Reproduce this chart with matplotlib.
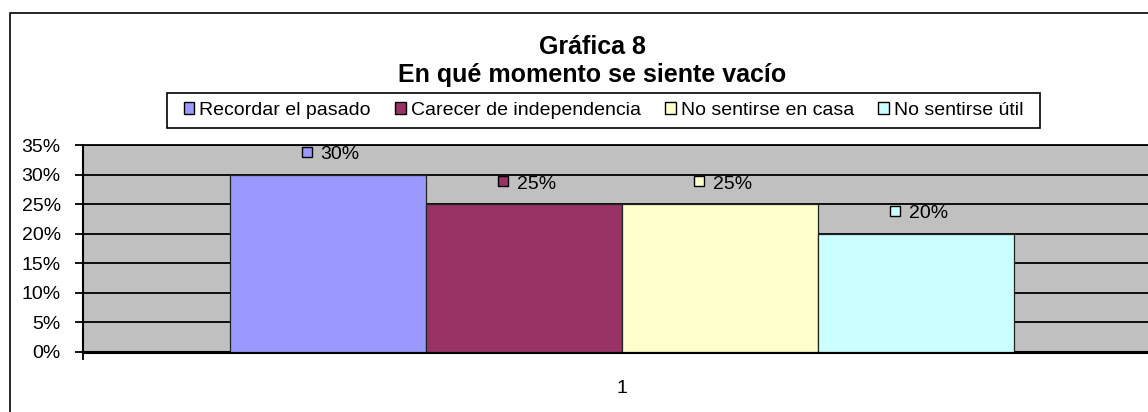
import matplotlib
matplotlib.use("Agg")
import matplotlib.pyplot as plt
import matplotlib.transforms as mtransforms
from matplotlib.patches import Rectangle

plt.rcParams['font.family'] = ['Liberation Sans', 'DejaVu Sans']

categories = ["1"]
series = ["Recordar el pasado", "Carecer de independencia", "No sentirse en casa", "No sentirse útil"]
values = [0.30, 0.25, 0.25, 0.20]
colors = ["#9999FF", "#993366", "#FFFFCC", "#CCFFFF"]
yticks = [0, 0.05, 0.10, 0.15, 0.20, 0.25, 0.30, 0.35]
ytick_labels = ["0%", "5%", "10%", "15%", "20%", "25%", "30%", "35%"]

W, H = 1148, 412
fig = plt.figure(figsize=(W / 100, H / 100), dpi=100)

# outer chart border (goes past right and bottom edges)
fig.patches.append(Rectangle((9.5 / W, -0.2), 1.2, (H - 13) / H + 0.2,
                             transform=fig.transFigure, fill=False,
                             edgecolor="black", lw=1.2))

ax = fig.add_axes([83 / W, 60 / H, 1077 / W, 207 / H])
ax.set_facecolor("#C0C0C0")

w = 196 / 1077
offsets = [-1.5, -0.5, 0.5, 1.5]
bars = []
for i, (name, v, c) in enumerate(zip(series, values, colors)):
    b = ax.bar(offsets[i] * w, v, width=w, color=c, edgecolor="#222222",
               lw=0.9, label=name, zorder=3)
    bars.append(b)

ax.set_xlim(-0.5, 0.5)
ax.set_ylim(0, 0.35)
ax.set_yticks(yticks)
ax.set_yticklabels(ytick_labels, fontsize=14)
ax.yaxis.grid(True, color="black", lw=1.3, zorder=1)
ax.set_axisbelow(True)
ax.tick_params(axis="y", length=6, width=1.3, pad=10, direction="out")

ax.set_xticks([0])
ax.set_xticklabels(categories, fontsize=14)
ax.tick_params(axis="x", length=0, pad=20)
ax.set_xticks([-0.5, 0.5], minor=True)
ax.tick_params(axis="x", which="minor", length=6, width=1.3, direction="out")

ax.spines["right"].set_visible(False)
ax.spines["top"].set_linewidth(1.3)
ax.spines["left"].set_linewidth(1.5)
ax.spines["bottom"].set_linewidth(2.2)

# data labels with small legend key
sq_tr = mtransforms.offset_copy(ax.transData, fig=fig, x=-21, y=23, units="dots")
tx_tr = mtransforms.offset_copy(ax.transData, fig=fig, x=-7, y=20, units="dots")
for i, (v, c) in enumerate(zip(values, colors)):
    xc = offsets[i] * w
    ax.plot([xc], [v], marker="s", markersize=7.5, markerfacecolor=c,
            markeredgecolor="black", markeredgewidth=1.0, transform=sq_tr,
            clip_on=False, zorder=5)
    ax.text(xc, v, f"{v:.0%}", transform=tx_tr, ha="left", va="center",
            fontsize=14, zorder=5)

fig.text(592 / W, 1 - 47 / H, "Gráfica 8", ha="center", va="center",
         fontsize=18, fontweight="bold")
fig.text(592 / W, 1 - 75 / H, "En qué momento se siente vacío", ha="center",
         va="center", fontsize=18, fontweight="bold")

# legend box drawn separately
fig.patches.append(Rectangle((167 / W, 1 - 128 / H), (1040 - 167) / W, 35 / H,
                             transform=fig.transFigure, facecolor="white",
                             edgecolor="black", lw=1.2))
leg = fig.legend(handles=[b[0] for b in bars], labels=series, ncol=4,
                 loc="center", bbox_to_anchor=(603.5 / W, 1 - 110.5 / H),
                 fontsize=14, frameon=False,
                 handlelength=0.55, handleheight=0.55, handletextpad=0.25,
                 columnspacing=1.25, borderpad=0.3)
for h in leg.legend_handles:
    h.set_edgecolor("black")
    h.set_linewidth(1.0)

fig.savefig("out.png", dpi=100)
